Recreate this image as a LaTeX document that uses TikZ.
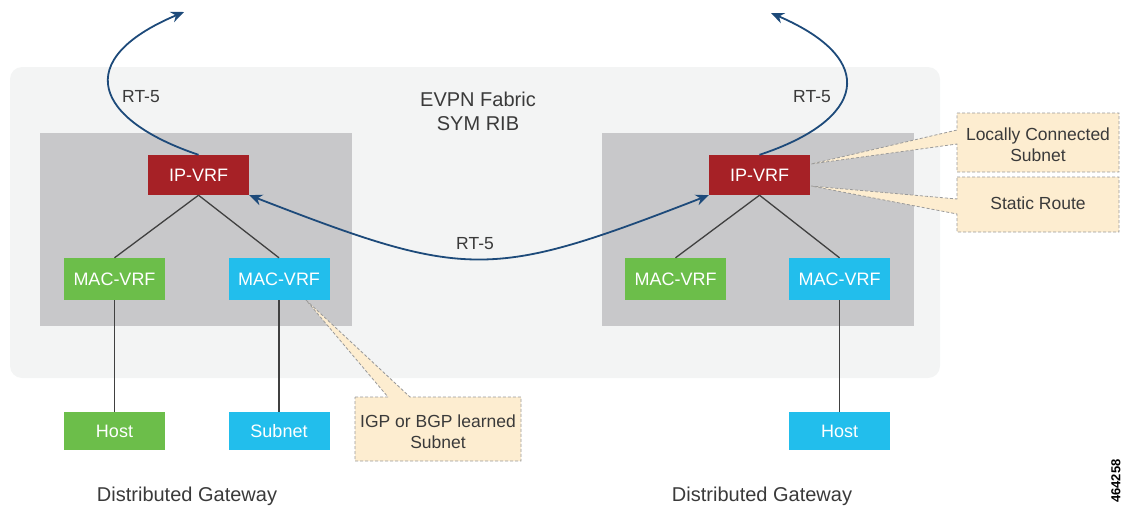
\documentclass[tikz,border=0pt]{standalone}
\usepackage{fontspec}
\setmainfont{Liberation Sans}
\usetikzlibrary{arrows.meta}
\definecolor{vrfred}{HTML}{A62126}
\definecolor{vrfgreen}{HTML}{6CBE4A}
\definecolor{vrfblue}{HTML}{22BEEC}
\definecolor{fabricbg}{HTML}{F3F4F4}
\definecolor{gwgray}{HTML}{C8C8CA}
\definecolor{notefill}{HTML}{FDEDD0}
\definecolor{noteline}{HTML}{9A9A9A}
\definecolor{rtblue}{HTML}{1D4A7A}
\definecolor{txtgray}{HTML}{3A3A3A}

\begin{document}
\begin{tikzpicture}[x=1pt, y=-1pt,
    vrf/.style={rectangle, minimum width=101pt, minimum height=42pt, inner sep=0pt, text=white, font=\fontsize{18}{21}\selectfont},
    endpt/.style={vrf, minimum height=38pt},
    label/.style={text=txtgray, align=center, font=\fontsize{18}{21}\selectfont},
    notetext/.style={text=txtgray, align=center, font=\fontsize{17.5}{21}\selectfont},
    callout/.style={fill=notefill, draw=noteline, dash pattern=on 3pt off 2pt, line width=0.8pt},
    link/.style={draw=black!75, line width=1.3pt},
    rt/.style={draw=rtblue, line width=1.8pt, -{Stealth[length=13pt, width=11pt]}}]
    \useasboundingbox (0,0) rectangle (1123,506);

    \fill[fabricbg, rounded corners=12pt] (10,67) rectangle (940,378);
    \fill[gwgray] (40,133) rectangle (352,326);
    \fill[gwgray] (602,133) rectangle (914,326);

    \draw[callout] (957,113) -- (1119,113) -- (1119,172) -- (957,172) -- (957,144) -- (811,164) -- (957,130) -- cycle;
    \draw[callout] (957,177) -- (1119,177) -- (1119,232) -- (957,232) -- (957,214) -- (811,186) -- (957,199) -- cycle;
    \draw[callout] (355,397) -- (388,397) -- (306,300) -- (410,397) -- (521,397) -- (521,461) -- (355,461) -- cycle;

    \node[vrf, fill=vrfred, minimum height=40pt] at (198.5,175) (ipL) {IP-VRF};
    \node[vrf, fill=vrfgreen] at (114.5,279) (macLg) {MAC-VRF};
    \node[vrf, fill=vrfblue] at (279,279) (macLb) {MAC-VRF};
    \node[endpt, fill=vrfgreen] at (114.5,431) (hostL) {Host};
    \node[endpt, fill=vrfblue] at (279,431) (subL) {Subnet};

    \node[vrf, fill=vrfred, minimum height=40pt] at (759.5,175) (ipR) {IP-VRF};
    \node[vrf, fill=vrfgreen] at (675.5,279) (macRg) {MAC-VRF};
    \node[vrf, fill=vrfblue] at (839.5,279) (macRb) {MAC-VRF};
    \node[endpt, fill=vrfblue] at (839.5,431) (hostR) {Host};

    \draw[link] (ipL.south) -- (macLg.north);
    \draw[link] (ipL.south) -- (macLb.north);
    \draw[link] (macLg.south) -- (hostL.north);
    \draw[link] (macLb.south) -- (subL.north);
    \draw[link] (ipR.south) -- (macRg.north);
    \draw[link] (ipR.south) -- (macRb.north);
    \draw[link] (macRb.south) -- (hostR.north);

    \coordinate (upL) at (184,12);
    \coordinate (upR) at (771,13);
    \draw[rt] (ipL.north) .. controls (95,120) and (70,60) .. (upL);
    \draw[rt] (ipR.north) .. controls (865,120) and (880,60) .. (upR);
    \draw[rt, {Stealth[length=13pt, width=11pt]}-{Stealth[length=13pt, width=11pt]}] (ipL.south east) .. controls (468,280) and (490,280) .. (ipR.south west);

    \node[label, font=\fontsize{17.5}{21}\selectfont] at (141,97) (rtL) {RT-5};
    \node[label, font=\fontsize{17.5}{21}\selectfont] at (812,97) (rtR) {RT-5};
    \node[label, font=\fontsize{17.5}{21}\selectfont] at (475,244) (rtM) {RT-5};
    \node[label, font=\fontsize{20}{24}\selectfont] at (478,111) (fabric) {EVPN Fabric\\SYM RIB};

    \node[notetext] at (1038,144.5) (lcs) {Locally Connected\\Subnet};
    \node[notetext] at (1038,203) (sr) {Static Route};
    \node[notetext] at (438,432) (igp) {IGP or BGP learned\\Subnet};

    \node[label, font=\fontsize{20}{24}\selectfont] at (187,496) (dgL) {Distributed Gateway};
    \node[label, font=\fontsize{20}{24}\selectfont] at (762,496) (dgR) {Distributed Gateway};
    \node[rotate=90, font=\fontsize{13}{15}\bfseries] at (1116,481) (figid) {464258};
  \end{tikzpicture}
\end{document}
